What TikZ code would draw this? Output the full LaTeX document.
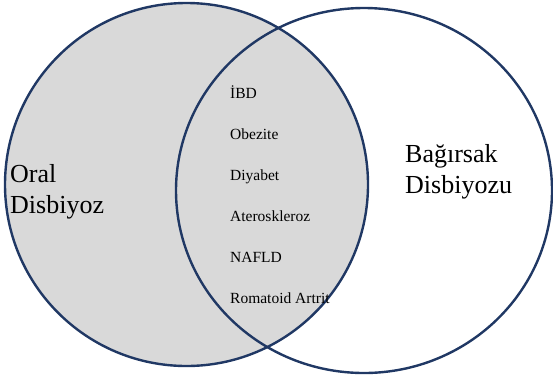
\documentclass[tikz,border=0pt]{standalone}
\usepackage{fontspec}
\setmainfont{Liberation Serif}
\definecolor{navy}{HTML}{203864}
\definecolor{fillgray}{HTML}{D9D9D9}
\tikzset{
  venn/.style={draw=navy, line width=2.4pt},
  biglabel/.style={anchor=base west, inner sep=0pt, font=\fontsize{26}{31}\selectfont},
  smalllabel/.style={anchor=base west, inner sep=0pt, font=\fontsize{15.5}{18}\selectfont}
}
\begin{document}
\begin{tikzpicture}[x=1pt,y=-1pt]
\useasboundingbox (0,0) rectangle (553,378);
\path[venn, fill=fillgray] (186.5,184.5) circle [radius=181.5];
\path[venn] (364,190.5) ellipse [x radius=188, y radius=182.5];
\node[biglabel] (oral1) at (10,182) {Oral};
\node[biglabel] (oral2) at (10,213) {Disbiyoz};
\node[biglabel] (gut1) at (405,162) {Bağırsak};
\node[biglabel] (gut2) at (405,193) {Disbiyozu};
\node[smalllabel] (d1) at (230,98) {İBD};
\node[smalllabel] (d2) at (230,139) {Obezite};
\node[smalllabel] (d3) at (230,180) {Diyabet};
\node[smalllabel] (d4) at (230,221) {Ateroskleroz};
\node[smalllabel] (d5) at (230,262) {NAFLD};
\node[smalllabel] (d6) at (230,303) {Romatoid Artrit};
\end{tikzpicture}
\end{document}
